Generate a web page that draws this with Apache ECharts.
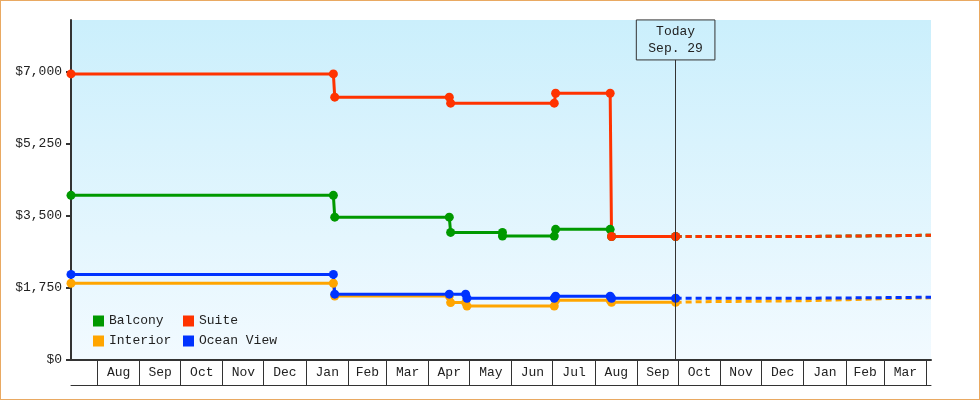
<!DOCTYPE html>
<html>
<head>
<meta charset="utf-8">
<script src="https://cdn.jsdelivr.net/npm/echarts@6/dist/echarts.min.js"></script>
<style>
  body { margin: 0; background: #fff; }
  #wrap { position: relative; width: 980px; height: 400px; }
  #price-chart { width: 980px; height: 400px; }
  #frame { position: absolute; left: 0; top: 0; width: 980px; height: 400px; box-sizing: border-box; border: 1px solid #e9a962; pointer-events: none; }
</style>
</head>
<body>
<div id="wrap">
  <div id="price-chart"></div>
  <div id="frame"></div>
</div>
<script>
var monthLabels = ['Aug','Sep','Oct','Nov','Dec','Jan','Feb','Mar','Apr','May','Jun','Jul',
                   'Aug','Sep','Oct','Nov','Dec','Jan','Feb','Mar'];
var monthStarts = ['2013-08-01','2013-09-01','2013-10-01','2013-11-01','2013-12-01','2014-01-01',
                   '2014-02-01','2014-03-01','2014-04-01','2014-05-01','2014-06-01','2014-07-01',
                   '2014-08-01','2014-09-01','2014-10-01','2014-11-01','2014-12-01','2015-01-01',
                   '2015-02-01','2015-03-01','2015-04-01'];
var yTicks = [0, 1750, 3500, 5250, 7000];
var today = '2014-09-29';
var startDate = '2013-07-12 14:00';
var endDate = '2015-04-04 07:00';

// price history, [date, price]
var balcony = [['2013-07-12 14:00',4000],['2014-01-21',4000],['2014-01-22',3470],['2014-04-16',3470],
               ['2014-04-17',3100],['2014-05-25',3100],['2014-05-25',3010],['2014-07-02',3010],
               ['2014-07-03',3175],['2014-08-12',3175],['2014-08-13',3000],['2014-09-29',3000]];
var interior = [['2013-07-12 14:00',1865],['2014-01-21',1865],['2014-01-22',1555],['2014-04-16',1555],
                ['2014-04-17',1395],['2014-04-28',1395],['2014-04-29',1310],['2014-07-02',1310],
                ['2014-07-03',1450],['2014-08-12',1450],['2014-08-13',1400],['2014-09-29',1400]];
var oceanView = [['2013-07-12 14:00',2080],['2014-01-21',2080],['2014-01-22',1600],['2014-04-16',1600],
                 ['2014-04-28',1600],['2014-04-29',1500],['2014-07-02',1500],['2014-07-03',1550],
                 ['2014-08-12',1550],['2014-08-13',1500],['2014-09-29',1500]];
var suite = [['2013-07-12 14:00',6950],['2014-01-21',6950],['2014-01-22',6385],['2014-04-16',6385],
             ['2014-04-17',6240],['2014-07-02',6240],['2014-07-03',6480],['2014-08-12',6480],
             ['2014-08-13',3000],['2014-09-29',3000]];

// forecast after today
var balconyForecast = [['2014-09-29',3000],['2015-01-02',3000],['2015-01-03',3030],['2015-04-04 07:00',3030]];
var interiorForecast = [['2014-09-29',1400],['2014-10-15',1415],['2015-01-02',1440],['2015-02-03',1465],
                        ['2015-03-05',1495],['2015-04-04 07:00',1510]];
var oceanViewForecast = [['2014-09-29',1500],['2015-01-02',1500],['2015-01-03',1525],['2015-04-04 07:00',1525]];
var suiteForecast = [['2014-09-29',3000],['2015-01-02',3000],['2015-01-03',3030],['2015-04-04 07:00',3030]];

var FONT = 'Liberation Mono';
var colors = {Balcony: '#009900', Interior: '#ffa500', 'Ocean View': '#0033ff', Suite: '#ff3300'};

var priceChart = echarts.init(document.getElementById('price-chart'));

function historyLine(name, data) {
    return {
        name: name,
        type: 'line',
        data: data,
        color: colors[name],
        symbol: 'circle',
        symbolSize: 9,
        lineStyle: { width: 3, color: colors[name] },
        itemStyle: { color: colors[name] },
        animation: false
    };
}

function forecastLine(name, data) {
    return {
        name: name,
        type: 'line',
        data: data,
        color: colors[name],
        showSymbol: false,
        symbol: 'none',
        lineStyle: { width: 3, color: colors[name], type: [6, 4] },
        animation: false
    };
}

function renderMonthCell(params, api) {
    var a = api.coord([api.value(0), 0]);
    var b = api.coord([api.value(1), 0]);
    var y = a[1];
    var xa = Math.floor(a[0]) + 0.5;
    var xb = Math.floor(b[0]) + 0.5;
    return {
        type: 'group',
        children: [
            { type: 'line', shape: { x1: xa, y1: y, x2: xa, y2: y + 25 }, style: { stroke: '#333', lineWidth: 1 } },
            { type: 'line', shape: { x1: xb, y1: y, x2: xb, y2: y + 25 }, style: { stroke: '#333', lineWidth: 1 } },
            {
                type: 'text',
                x: (a[0] + b[0]) / 2,
                y: y + 13,
                style: {
                    text: monthLabels[params.dataIndex],
                    fill: '#222',
                    fontFamily: FONT,
                    fontSize: 13,
                    align: 'center',
                    verticalAlign: 'middle'
                }
            }
        ]
    };
}

var monthCells = monthLabels.map(function (m, i) {
    return [monthStarts[i], monthStarts[i + 1], 0];
});

var balconySeries = historyLine('Balcony', balcony);
balconySeries.markLine = {
    silent: true,
    symbol: ['none', 'none'],
    lineStyle: { color: '#333', width: 1, type: 'solid' },
    label: {
        show: true,
        position: 'end',
        distance: 0,
        formatter: 'Today\nSep. 29',
        fontFamily: FONT,
        fontSize: 13,
        color: '#222',
        lineHeight: 17,
        padding: [3, 12],
        borderColor: '#333',
        borderWidth: 1
    },
    data: [[{ coord: [today, 0] }, { coord: [today, 7290] }]]
};

var legendText = { fontFamily: FONT, fontSize: 13, color: '#222', lineHeight: 14 };

option = {
    animation: false,
    textStyle: { fontFamily: FONT },
    grid: {
        left: 71,
        right: 49,
        top: 20,
        bottom: 40,
        show: true,
        borderWidth: 0,
        backgroundColor: new echarts.graphic.LinearGradient(0, 0, 0, 1, [
            { offset: 0, color: '#cbeffc' },
            { offset: 1, color: '#f2faff' }
        ])
    },
    legend: [
        {
            data: ['Balcony', 'Interior'],
            orient: 'vertical',
            left: 93,
            top: 314,
            padding: 0,
            icon: 'rect',
            itemWidth: 11,
            itemHeight: 11,
            itemGap: 6,
            selectedMode: false,
            textStyle: legendText
        },
        {
            data: ['Suite', 'Ocean View'],
            orient: 'vertical',
            left: 183,
            top: 314,
            padding: 0,
            icon: 'rect',
            itemWidth: 11,
            itemHeight: 11,
            itemGap: 6,
            selectedMode: false,
            textStyle: legendText
        }
    ],
    xAxis: [
        {
            type: 'time',
            min: startDate,
            max: endDate,
            axisLine: { show: true, lineStyle: { color: '#333', width: 2 } },
            axisTick: { show: false },
            axisLabel: { show: false },
            splitLine: { show: false }
        },
        {
            type: 'time',
            min: startDate,
            max: endDate,
            position: 'bottom',
            offset: 25,
            axisLine: { show: true, lineStyle: { color: '#333', width: 1 } },
            axisTick: { show: false },
            axisLabel: { show: false },
            splitLine: { show: false }
        }
    ],
    yAxis: {
        type: 'value',
        min: 0,
        max: 8260,
        axisLine: { show: true, lineStyle: { color: '#333', width: 2 } },
        axisTick: { show: true, length: 5, customValues: yTicks, lineStyle: { color: '#333', width: 2 } },
        axisLabel: {
            customValues: yTicks,
            margin: 9,
            color: '#222',
            fontFamily: FONT,
            fontSize: 13,
            formatter: function (v) { return '$' + v.toLocaleString('en-US'); }
        },
        splitLine: { show: false }
    },
    series: [
        {
            type: 'custom',
            name: 'months',
            clip: false,
            silent: true,
            renderItem: renderMonthCell,
            encode: { x: [0, 1], y: 2 },
            data: monthCells,
            animation: false
        },
        forecastLine('Balcony', balconyForecast),
        forecastLine('Interior', interiorForecast),
        forecastLine('Ocean View', oceanViewForecast),
        forecastLine('Suite', suiteForecast),
        balconySeries,
        historyLine('Interior', interior),
        historyLine('Ocean View', oceanView),
        historyLine('Suite', suite)
    ]
};

priceChart.setOption(option);
</script>
</body>
</html>
